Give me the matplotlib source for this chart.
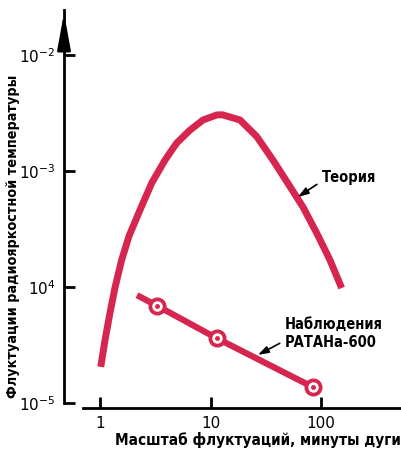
import matplotlib.pyplot as plt
from matplotlib import font_manager
from matplotlib.font_manager import FontProperties

# ── Data ──────────────────────────────────────────────────────────────────────
theory_x = [1.015, 1.11, 1.23, 1.37, 1.57, 1.83, 2.30, 2.94, 3.87, 4.94, 6.52, 8.55,
            11.4, 12.8, 18.5, 26.2, 36.8, 51.3, 68.7, 91.4, 120.5, 153.8]
theory_y = [2.05e-5, 3.49e-5, 5.97e-5, 1.0e-4, 1.71e-4, 2.75e-4, 4.61e-4, 7.88e-4,
            1.24e-3, 1.74e-3, 2.25e-3, 2.75e-3, 3.04e-3, 3.05e-3, 2.75e-3, 1.98e-3,
            1.24e-3, 7.57e-4, 4.89e-4, 2.92e-4, 1.71e-4, 9.8e-5]

obs_line_x = [2.16, 3.28, 11.5, 84.7]
obs_line_y = [8.5e-5, 6.9e-5, 3.6e-5, 1.37e-5]
obs_pts_x = [3.28, 11.5, 84.7]
obs_pts_y = [6.9e-5, 3.6e-5, 1.37e-5]

xticks = [1, 10, 100]
xtick_labels = ['1', '10', '100']
yticks = [1e-5, 1e-4, 1e-3, 1e-2]
ytick_labels = ['$10^{-5}$', '$10^{4}$', '$10^{-3}$', '$10^{-2}$']

RED = '#d6264f'


def pick_font(size):
    # look for a condensed / narrow bold face, else fall back to Roboto bold
    for f in font_manager.fontManager.ttflist:
        n = f.fname.lower()
        if ('condensed' in n or 'narrow' in n) and 'bold' in n and 'oblique' not in n \
                and 'italic' not in n and 'mono' not in n and 'serif' not in n.replace('sans', ''):
            return FontProperties(fname=f.fname, size=size)
    return FontProperties(family='Roboto', weight='bold', size=size)


fp_lab = pick_font(11)
fp_ylab = pick_font(10.3)
fp_ann = pick_font(10.5)

fig = plt.figure(figsize=(4.02, 4.51), dpi=100)
ax = fig.add_axes([64 / 402, 1 - 408 / 451, 1 - 64 / 402, (408 - 10) / 451])
ax.set_xscale('log')
ax.set_yscale('log')
ax.set_xlim(0.472, 541)
ax.set_ylim(9.06e-6, 0.0244)

# theory curve
ax.plot(theory_x, theory_y, color=RED, lw=5, solid_capstyle='butt', solid_joinstyle='round')

# observations
ax.plot(obs_line_x, obs_line_y, color=RED, lw=4.5, solid_capstyle='butt')
ax.plot(obs_pts_x, obs_pts_y, 'o', ms=12, color=RED, mec=RED)
ax.plot(obs_pts_x, obs_pts_y, 'o', ms=6.5, color='white', mec='white')
ax.plot(obs_pts_x, obs_pts_y, 'o', ms=2.5, color=RED, mec=RED)

# spines
for s in ['top', 'right']:
    ax.spines[s].set_visible(False)
ax.spines['left'].set_linewidth(2)
ax.spines['bottom'].set_linewidth(2)
ax.spines['left'].set_bounds(1.0e-5, 0.0244)
ax.spines['bottom'].set_bounds(0.70, 541)
ax.annotate('', xy=(0, 1.0), xytext=(0, 0.92), xycoords='axes fraction',
            arrowprops=dict(arrowstyle='-|>,head_length=1.1,head_width=0.2',
                            color='black', lw=2, mutation_scale=20))

ax.set_xticks(xticks)
ax.set_xticklabels(xtick_labels)
ax.set_yticks(yticks)
ax.set_yticklabels(ytick_labels)
ax.minorticks_off()
ax.tick_params(axis='both', direction='in', length=8, width=2, labelsize=11)
ax.tick_params(axis='x', pad=6)
ax.tick_params(axis='y', pad=6)

fig.text(258 / 402, 1 - 440 / 451, 'Масштаб флуктуаций, минуты дуги',
         ha='center', va='center', fontproperties=fp_lab)
fig.text(13 / 402, 1 - 236 / 451, 'Флуктуации радиояркостной температуры', rotation=90,
         ha='center', va='center', fontproperties=fp_ylab)

ax.annotate('Теория', xy=(61.9, 5.97e-4), xytext=(102, 8.7e-4),
            fontproperties=fp_ann, va='center', ha='left',
            arrowprops=dict(arrowstyle='-|>,head_length=0.6,head_width=0.2',
                            color='black', lw=1.2, shrinkA=2, shrinkB=0,
                            relpos=(0, 0.3)))
ax.annotate('Наблюдения\nРАТАНа-600', xy=(26.9, 2.6e-5), xytext=(47.2, 3.94e-5),
            fontproperties=fp_ann, va='center', ha='left', linespacing=1.25,
            arrowprops=dict(arrowstyle='-|>,head_length=0.6,head_width=0.2',
                            color='black', lw=1.2, shrinkA=2, shrinkB=0,
                            relpos=(0, 0.3)))

fig.savefig('out.png', dpi=100)
